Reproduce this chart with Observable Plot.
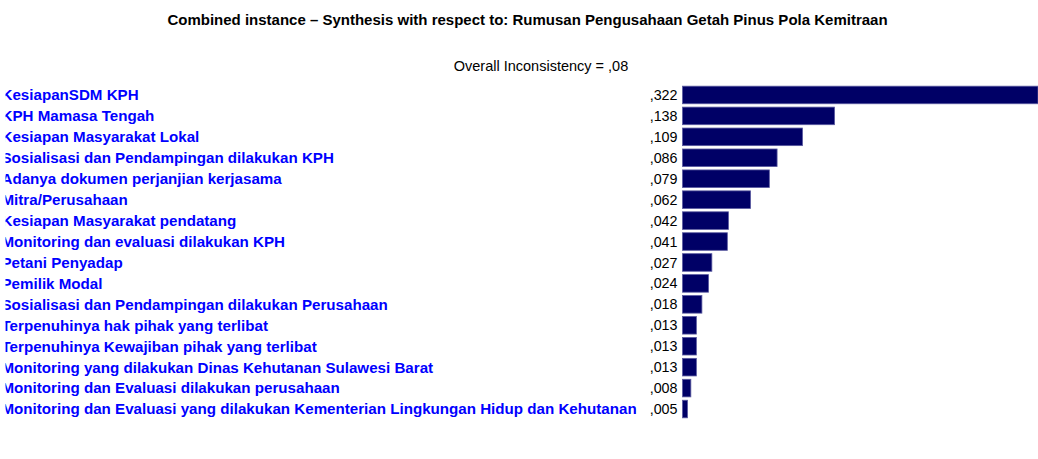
<!DOCTYPE html>
<html>
<head>
<meta charset="utf-8">
<script src="https://cdn.jsdelivr.net/npm/d3@7"></script>
<script src="https://cdn.jsdelivr.net/npm/@observablehq/plot@0.6"></script>
<style>
  html, body { margin: 0; padding: 0; background: #fff; }
  #wrap { position: relative; width: 1038px; height: 459px; overflow: hidden; }
  .title { position: absolute; left: 0; width: 1038px; text-align: center; font-family: "Liberation Sans", Arial, sans-serif; color: #000; white-space: nowrap; }
  #t1 { top: 11px; font-size: 15px; font-weight: bold; padding-left: 17px; box-sizing: border-box; }
  #t2 { top: 58px; font-size: 14.5px; padding-left: 44px; box-sizing: border-box; }
  g[aria-label="y-axis tick label"] { clip-path: inset(0 0 0 4px); }
</style>
</head>
<body>
<div id="wrap">
  <div id="chart"></div>
  <div class="title" id="t1"></div>
  <div class="title" id="t2"></div>
</div>
<script>
const titleText = "Combined instance \u2013 Synthesis with respect to: Rumusan Pengusahaan Getah Pinus Pola Kemitraan";
const subtitleText = "Overall Inconsistency = ,08";

const categories = [
  "KesiapanSDM KPH",
  "KPH Mamasa Tengah",
  "Kesiapan Masyarakat Lokal",
  "Sosialisasi dan Pendampingan dilakukan KPH",
  "Adanya dokumen perjanjian kerjasama",
  "Mitra/Perusahaan",
  "Kesiapan Masyarakat pendatang",
  "Monitoring dan evaluasi dilakukan KPH",
  "Petani Penyadap",
  "Pemilik Modal",
  "Sosialisasi dan Pendampingan dilakukan Perusahaan",
  "Terpenuhinya hak pihak yang terlibat",
  "Terpenuhinya Kewajiban pihak yang terlibat",
  "Monitoring yang dilakukan Dinas Kehutanan Sulawesi Barat",
  "Monitoring dan Evaluasi dilakukan perusahaan",
  "Monitoring dan Evaluasi yang dilakukan Kementerian Lingkungan Hidup dan Kehutanan"
];
const values = [0.322, 0.138, 0.109, 0.086, 0.079, 0.062, 0.042, 0.041, 0.027, 0.024, 0.018, 0.013, 0.013, 0.013, 0.008, 0.005];
const valueLabels = [",322", ",138", ",109", ",086", ",079", ",062", ",042", ",041", ",027", ",024", ",018", ",013", ",013", ",013", ",008", ",005"];

const data = categories.map((c, i) => ({name: c, value: values[i], label: valueLabels[i]}));

document.getElementById("t1").textContent = titleText;
document.getElementById("t2").textContent = subtitleText;

const chart = Plot.plot({
  width: 1038,
  height: 459,
  marginLeft: 682,
  marginRight: 0,
  marginTop: 84.5,
  marginBottom: 39.5,
  style: {fontFamily: "'Liberation Sans', Arial, sans-serif", background: "#fff", overflow: "visible"},
  x: {domain: [0, 0.322], axis: null},
  y: {domain: categories, paddingInner: 0.16, paddingOuter: 0.08, round: false, axis: null},
  marks: [
    Plot.barX(data, {x: "value", y: "name", fill: "#000066", stroke: "#5a5aa0", strokeWidth: 0.8, insetLeft: 0.5, insetRight: 0}),
    Plot.axisY({anchor: "left", tickSize: 0, textAnchor: "start", dx: -681, fontSize: 15.15, fontWeight: "bold", fill: "#0000ff", label: null, tickPadding: 0}),
    Plot.text(data, {y: "name", text: "label", frameAnchor: "left", textAnchor: "end", dx: -5, fontSize: 14.3, fill: "#000"})
  ]
});
document.getElementById("chart").appendChild(chart);
</script>
</body>
</html>
